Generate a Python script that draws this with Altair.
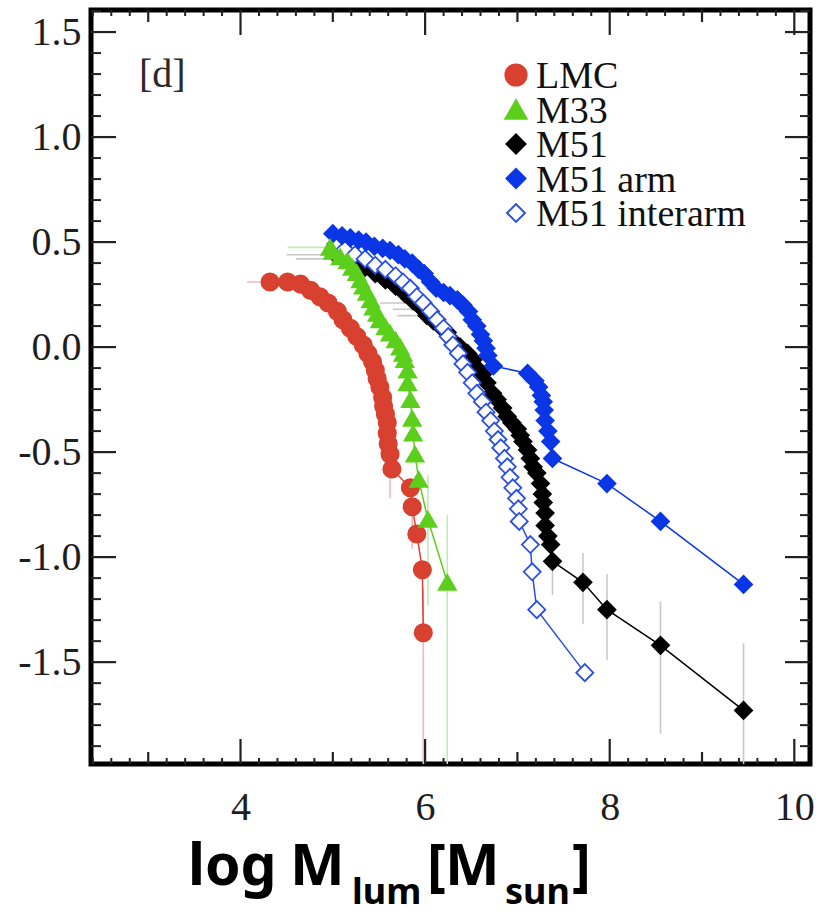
import altair as alt
import pandas as pd

# ---------------- data ----------------
series_order = ["LMC", "M33", "M51", "M51 arm", "M51 interarm"]

lmc_x = [4.32, 4.51, 4.65, 4.76, 4.86, 4.95, 5.05, 5.11, 5.19, 5.26, 5.33, 5.38, 5.43, 5.46, 5.48,
         5.51, 5.54, 5.55, 5.57, 5.59, 5.59, 5.60, 5.62, 5.64, 5.84, 5.86, 5.91, 5.97, 5.98]
lmc_y = [0.31, 0.31, 0.30, 0.27, 0.24, 0.21, 0.17, 0.13, 0.09, 0.05, 0.01, -0.03, -0.07, -0.11, -0.15,
         -0.19, -0.24, -0.28, -0.32, -0.36, -0.41, -0.46, -0.51, -0.58, -0.67, -0.76, -0.89, -1.06, -1.36]

m33_x = [4.97, 5.00, 5.08, 5.16, 5.21, 5.26, 5.30, 5.33, 5.37, 5.41, 5.44, 5.48, 5.51, 5.57,
         5.62, 5.68, 5.73, 5.76, 5.78, 5.81, 5.81, 5.84, 5.86, 5.87, 5.89, 5.93, 6.03, 6.24]
m33_y = [0.475, 0.456, 0.43, 0.41, 0.38, 0.355, 0.32, 0.29, 0.26, 0.225, 0.19, 0.16, 0.13, 0.096,
         0.067, 0.034, 0.0, -0.03, -0.06, -0.11, -0.17, -0.25, -0.34, -0.41, -0.51, -0.63, -0.82, -1.12]

m51_x = [5.03, 5.13, 5.24, 5.35, 5.46, 5.57, 5.68, 5.78, 5.87, 5.95, 6.02, 6.09, 6.16, 6.24, 6.30,
         6.38, 6.46, 6.52, 6.56, 6.62, 6.67, 6.73, 6.78, 6.84, 6.89, 6.94, 7.00, 7.03, 7.06, 7.11,
         7.14, 7.17, 7.21, 7.25, 7.27, 7.28, 7.30, 7.30, 7.33, 7.36, 7.38, 7.71, 7.97, 8.55, 9.45]
m51_y = [0.44, 0.42, 0.40, 0.38, 0.35, 0.32, 0.29, 0.255, 0.22, 0.19, 0.15, 0.125, 0.10, 0.07, 0.03,
         0.0, -0.03, -0.06, -0.10, -0.13, -0.17, -0.22, -0.25, -0.29, -0.33, -0.36, -0.39, -0.42, -0.45, -0.49,
         -0.53, -0.57, -0.60, -0.65, -0.70, -0.74, -0.79, -0.85, -0.90, -0.94, -1.02, -1.12, -1.25, -1.42, -1.73]

arm_x = [5.00, 5.10, 5.19, 5.28, 5.36, 5.45, 5.54, 5.62, 5.71, 5.78, 5.86, 5.93, 5.99, 6.06, 6.12,
         6.20, 6.27, 6.35, 6.41, 6.47, 6.51, 6.56, 6.60, 6.63, 6.66, 6.68, 6.74, 7.11, 7.19, 7.23,
         7.26, 7.28, 7.29, 7.30, 7.33, 7.36, 7.38, 7.97, 8.55, 9.45]
arm_y = [0.54, 0.53, 0.52, 0.51, 0.50, 0.48, 0.47, 0.46, 0.44, 0.42, 0.40, 0.37, 0.35, 0.31, 0.28,
         0.26, 0.245, 0.225, 0.20, 0.17, 0.13, 0.10, 0.06, 0.03, -0.005, -0.04, -0.09, -0.125, -0.16, -0.19,
         -0.23, -0.26, -0.30, -0.35, -0.40, -0.45, -0.53, -0.65, -0.83, -1.13]

inter_x = [5.03, 5.13, 5.24, 5.35, 5.46, 5.57, 5.68, 5.76, 5.84, 5.91, 5.98, 6.06, 6.13, 6.20, 6.25,
           6.30, 6.36, 6.41, 6.46, 6.51, 6.56, 6.62, 6.66, 6.71, 6.75, 6.79, 6.82, 6.86, 6.89, 6.92,
           6.95, 6.99, 7.01, 7.02, 7.14, 7.16, 7.21, 7.73]
inter_y = [0.49, 0.465, 0.44, 0.42, 0.39, 0.37, 0.34, 0.31, 0.28, 0.24, 0.21, 0.17, 0.13, 0.09, 0.05,
           0.01, -0.03, -0.08, -0.12, -0.17, -0.22, -0.26, -0.31, -0.35, -0.40, -0.44, -0.48, -0.53, -0.57, -0.62,
           -0.67, -0.72, -0.77, -0.83, -0.94, -1.07, -1.25, -1.55]

# horizontal error bars: series, x low, x high, y
herr_series = ["M51", "M51", "M51", "M51", "M51", "LMC", "M33"]
herr_xlo = [4.50, 4.60, 5.51, 5.65, 5.70, 4.07, 4.51]
herr_xhi = [5.30, 5.35, 6.00, 6.09, 6.16, 4.65, 5.08]
herr_y = [0.44, 0.42, 0.21, 0.18, 0.15, 0.31, 0.475]

# vertical error bars: series, x, y low, y high
verr_series = ["M51", "M51", "M51", "M51", "M51", "LMC", "LMC", "LMC", "M33", "M33"]
verr_x = [7.38, 7.71, 7.97, 8.55, 9.45, 5.62, 5.86, 5.98, 6.03, 6.24]
verr_ylo = [-1.18, -1.32, -1.49, -1.84, -2.10, -0.72, -0.96, -2.10, -1.23, -2.10]
verr_yhi = [-0.90, -0.98, -1.08, -1.21, -1.41, -0.55, -0.77, -1.15, -0.61, -0.80]

# axis tick positions
x_labels = [4, 6, 8, 10]
x_major = [4, 6, 8, 10]
x_mid = [3, 5, 7, 9]
x_minor = [round(2.4 + 0.2 * i, 1) for i in range(40) if round(2.4 + 0.2 * i, 1) <= 10.15
           and abs(round(2.4 + 0.2 * i, 1) - round(2.4 + 0.2 * i)) > 0.01]
y_labels = [-1.5, -1.0, -0.5, 0.0, 0.5, 1.0, 1.5]
y_minor = [round(-1.9 + 0.1 * i, 1) for i in range(36)
           if abs(round(-1.9 + 0.1 * i, 1) * 2 - round(round(-1.9 + 0.1 * i, 1) * 2)) > 0.01]

# ---------------- styling ----------------
W, H = 719, 754
fill_range = ["#d8412f", "#5ccf1c", "#000000", "#0a36e6", "#ffffff"]
stroke_range = ["#d8412f", "#5ccf1c", "#000000", "#0a36e6", "#2a4fe4"]
shape_range = ["circle", "triangle-up", "diamond", "diamond", "diamond"]
size_range = [300, 290, 180, 320, 190]
legend_size = [450, 450, 360, 360, 320]
err_colors = {"M51": "#c8c8c8", "LMC": "#f2b8bd", "M33": "#bdeeb0"}
SERIF = "Liberation Serif"

XS = alt.Scale(domain=[2.38, 10.17], nice=False, zero=False)
YS = alt.Scale(domain=[-1.985, 1.605], nice=False, zero=False)
XA = alt.Axis(values=x_labels, title=None, grid=False, ticks=False, tickSize=0, domain=False,
              labelFont=SERIF, labelFontSize=40, labelColor="#1e1e1e", labelPadding=23,
              labelFlush=False)
YA = alt.Axis(values=y_labels, title=None, grid=False, ticks=False, tickSize=0, domain=False,
              labelFont=SERIF, labelFontSize=40, labelColor="#1e1e1e", labelPadding=10,
              labelExpr="datum.value < 0 ? '-' + format(-datum.value, '.1f') : format(datum.value, '.1f')")

# ---------------- tables ----------------
frames = []
for name, xs, ys in [("M51", m51_x, m51_y), ("M51 interarm", inter_x, inter_y),
                     ("M51 arm", arm_x, arm_y), ("LMC", lmc_x, lmc_y), ("M33", m33_x, m33_y)]:
    frames.append(pd.DataFrame({"series": name, "x": xs, "y": ys}))
pts = pd.concat(frames, ignore_index=True)

herr = pd.DataFrame({"series": herr_series, "xlo": herr_xlo, "xhi": herr_xhi, "y": herr_y})
verr = pd.DataFrame({"series": verr_series, "x": verr_x, "ylo": verr_ylo, "yhi": verr_yhi})
herr["c"] = herr["series"].map(err_colors)
verr["c"] = verr["series"].map(err_colors)

X = lambda f: alt.X(f, scale=XS, axis=XA)
Y = lambda f: alt.Y(f, scale=YS, axis=YA)

layers = []

# error bars
layers.append(alt.Chart(herr).mark_rule(strokeWidth=1.6, clip=True).encode(
    x=X("xlo:Q"), x2="xhi:Q", y=Y("y:Q"), color=alt.Color("c:N", scale=None)))
layers.append(alt.Chart(verr).mark_rule(strokeWidth=1.6, clip=True).encode(
    x=X("x:Q"), y=Y("ylo:Q"), y2="yhi:Q", color=alt.Color("c:N", scale=None)))

# connecting lines
layers.append(alt.Chart(pts).mark_line(strokeWidth=1.5, clip=True).encode(
    x=X("x:Q"), y=Y("y:Q"),
    color=alt.Color("series:N", scale=alt.Scale(domain=series_order, range=stroke_range), legend=None),
    detail="series:N"))

# points
layers.append(alt.Chart(pts).mark_point(opacity=1, strokeWidth=1.8, clip=True).encode(
    x=X("x:Q"), y=Y("y:Q"),
    fill=alt.Fill("series:N", scale=alt.Scale(domain=series_order, range=fill_range), legend=None),
    stroke=alt.Stroke("series:N", scale=alt.Scale(domain=series_order, range=stroke_range), legend=None),
    shape=alt.Shape("series:N", scale=alt.Scale(domain=series_order, range=shape_range), legend=None),
    size=alt.Size("series:N", scale=alt.Scale(domain=series_order, range=size_range), legend=None)))

# inward ticks (frame on all four sides)
def xticks(vals, length, width):
    d = pd.DataFrame({"v": vals})
    top = alt.Chart(d).mark_rule(color="#222222", strokeWidth=width).encode(
        x=X("v:Q"), y=alt.value(0), y2=alt.value(length))
    bot = alt.Chart(d).mark_rule(color="#222222", strokeWidth=width).encode(
        x=X("v:Q"), y=alt.value(H), y2=alt.value(H - length))
    return [top, bot]

def yticks(vals, length, width):
    d = pd.DataFrame({"v": vals})
    left = alt.Chart(d).mark_rule(color="#222222", strokeWidth=width).encode(
        y=Y("v:Q"), x=alt.value(0), x2=alt.value(length))
    right = alt.Chart(d).mark_rule(color="#222222", strokeWidth=width).encode(
        y=Y("v:Q"), x=alt.value(W), x2=alt.value(W - length))
    return [left, right]

layers += xticks(x_major, 25, 2.2) + xticks(x_mid, 12, 2.2) + xticks(x_minor, 6, 2)
layers += yticks(y_labels, 25, 2.2) + yticks(y_minor, 10, 2)

# legend (top right, inside the frame)
one = pd.DataFrame({"k": [0]})
LEG_X, LEG_Y0, LEG_DY, LEG_TX = 425, 65, 34.5, 445
for i, name in enumerate(series_order):
    ry = LEG_Y0 + i * LEG_DY
    layers.append(alt.Chart(one).mark_point(
        shape=shape_range[i], filled=True, fill=fill_range[i], stroke=stroke_range[i],
        strokeWidth=2, opacity=1, size=legend_size[i]).encode(
        x=alt.value(LEG_X), y=alt.value(ry)))
    layers.append(alt.Chart(one).mark_text(
        text=name, font=SERIF, fontSize=38, color="#111111", align="left",
        baseline="middle").encode(x=alt.value(LEG_TX), y=alt.value(ry + 2)))

# panel tag and axis title
def txt(s, px, py, size, font, weight="normal", color="#111111"):
    return alt.Chart(one).mark_text(text=s, font=font, fontSize=size, fontWeight=weight,
                                    color=color, align="left", baseline="alphabetic").encode(
        x=alt.value(px), y=alt.value(py))

layers.append(txt("[d]", 48, 77, 40, SERIF, color="#2a2a2a"))
TF = "Noto Sans"
layers.append(txt("log", 97, 875, 57, TF, "bold", "#000000"))
layers.append(txt("M", 199, 875, 58, TF, "bold", "#000000"))
layers.append(txt("lum", 261, 894, 36, TF, "bold", "#000000"))
layers.append(txt("[", 336, 875, 57, TF, "bold", "#000000"))
layers.append(txt("M", 354, 875, 58, TF, "bold", "#000000"))
layers.append(txt("sun", 414, 894, 36, TF, "bold", "#000000"))
layers.append(txt("]", 481, 875, 57, TF, "bold", "#000000"))

chart = alt.layer(*layers).properties(
    width=W, height=H,
    autosize=alt.AutoSizeParams(type="none"),
    padding={"left": 91, "top": 10, "right": 17, "bottom": 151},
    background="white",
).configure_view(stroke="#000000", strokeWidth=5)

chart.save("out.html", embed_options={"renderer": "svg", "actions": False})
